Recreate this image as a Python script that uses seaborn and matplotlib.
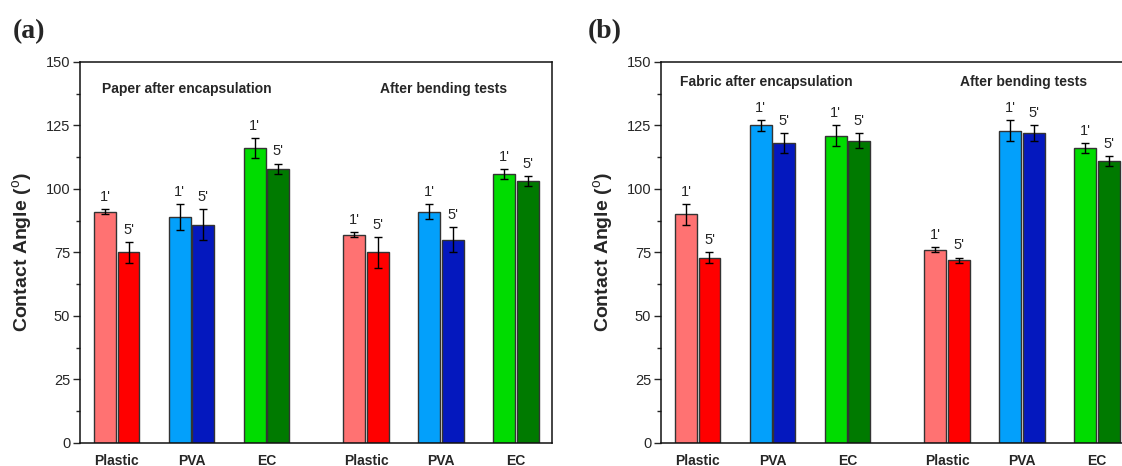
import numpy as np
import pandas as pd
import matplotlib
matplotlib.use("Agg")
import matplotlib.pyplot as plt
from matplotlib.ticker import MultipleLocator
import seaborn as sns

# contact angle data (mean and error bar half-length)
materials = ["Plastic", "PVA", "EC", "Plastic", "PVA", "EC"]
times = ["1'", "5'"]

paper_1min = [91, 89, 116, 82, 91, 106]
paper_1min_err = [1, 5, 4, 1, 3, 2]
paper_5min = [75, 86, 108, 75, 80, 103]
paper_5min_err = [4, 6, 2, 6, 5, 2]

fabric_1min = [90, 125, 121, 76, 123, 116]
fabric_1min_err = [4, 2, 4, 1, 4, 2]
fabric_5min = [73, 118, 119, 72, 122, 111]
fabric_5min_err = [2, 4, 3, 1, 3, 2]

section_titles_a = ["Paper after encapsulation", "After bending tests"]
section_titles_b = ["Fabric after encapsulation", "After bending tests"]

# layout: two sections of three groups with a wider gap between them
group_pos = [0, 1, 2, 3.33, 4.33, 5.33]

colors = {
    "Plastic": ["#FF7272", "#FF0000"],
    "PVA": ["#03A0FB", "#0418BE"],
    "EC": ["#00DC00", "#007A00"],
}

sns.set_style("ticks")
plt.rcParams["font.family"] = ["Liberation Sans", "DejaVu Sans"]
plt.rcParams["mathtext.fontset"] = "custom"
plt.rcParams["mathtext.rm"] = "Liberation Sans"


def make_df(v1, e1, v5, e5):
    rows = []
    for t, vals, errs in [(times[0], v1, e1), (times[1], v5, e5)]:
        for m, p, v, e in zip(materials, group_pos, vals, errs):
            rows.append({"material": m, "pos": p, "time": t, "angle": v, "err": e})
    return pd.DataFrame(rows)


def draw_panel(ax, df, titles, title_y, title_x):
    sns.barplot(data=df, x="pos", y="angle", hue="time", hue_order=times,
                native_scale=True, width=0.63, gap=0.07, errorbar=None,
                palette=["#888888", "#444444"], edgecolor="#333333",
                linewidth=1.0, legend=False, ax=ax)
    bar_conts = list(ax.containers)[:2]
    for h, cont in enumerate(bar_conts):
        sub = df[df["time"] == times[h]].sort_values("pos")
        xs, ys = [], []
        for bar, (_, row) in zip(cont.patches, sub.iterrows()):
            bar.set_facecolor(colors[row["material"]][h])
            xc = bar.get_x() + bar.get_width() / 2
            xs.append(xc)
            ys.append(bar.get_height())
            ax.text(xc, row["angle"] + row["err"] + 2, times[h], ha="center",
                    va="bottom", fontsize=10.5)
        ax.errorbar(xs, ys, yerr=sub["err"].values, fmt="none", ecolor="black",
                    elinewidth=1.0, capsize=3, capthick=1.0)

    ax.set_xlim(-0.49, 5.81)
    ax.set_ylim(0, 150)
    ax.yaxis.set_major_locator(MultipleLocator(25))
    ax.yaxis.set_minor_locator(MultipleLocator(12.5))
    ax.set_xticks(group_pos)
    ax.set_xticklabels(materials, fontweight="bold", fontsize=10)
    ax.tick_params(axis="x", length=0, pad=8)
    ax.tick_params(axis="y", which="major", length=5, width=1, labelsize=10.5, pad=2)
    ax.tick_params(axis="y", which="minor", length=3, width=1)
    for s in ax.spines.values():
        s.set_visible(True)
        s.set_linewidth(1.1)
        s.set_color("#111111")
    ax.set_xlabel("")
    ax.set_ylabel(r"Contact Angle ($^\mathrm{o}$)", fontsize=14, fontweight="bold", labelpad=8)
    ax.text(title_x[0], title_y, titles[0], fontsize=10, fontweight="bold", va="center")
    ax.text(title_x[1], title_y, titles[1], fontsize=10, fontweight="bold", va="center")


fig = plt.figure(figsize=(11.22, 4.66), dpi=100)
ax_a = fig.add_axes([0.0713, 0.0494, 0.4207, 0.8176])
ax_b = fig.add_axes([0.5891, 0.0494, 0.4207, 0.8176])

draw_panel(ax_a, make_df(paper_1min, paper_1min_err, paper_5min, paper_5min_err),
           section_titles_a, 139.4, [-0.19, 3.51])
draw_panel(ax_b, make_df(fabric_1min, fabric_1min_err, fabric_5min, fabric_5min_err),
           section_titles_b, 142.2, [-0.24, 3.5])

fig.text(0.011, 0.933, "(a)", fontsize=20, fontweight="bold", family="Liberation Serif", va="center")
fig.text(0.524, 0.933, "(b)", fontsize=20, fontweight="bold", family="Liberation Serif", va="center")

fig.savefig("out.png", dpi=100)
